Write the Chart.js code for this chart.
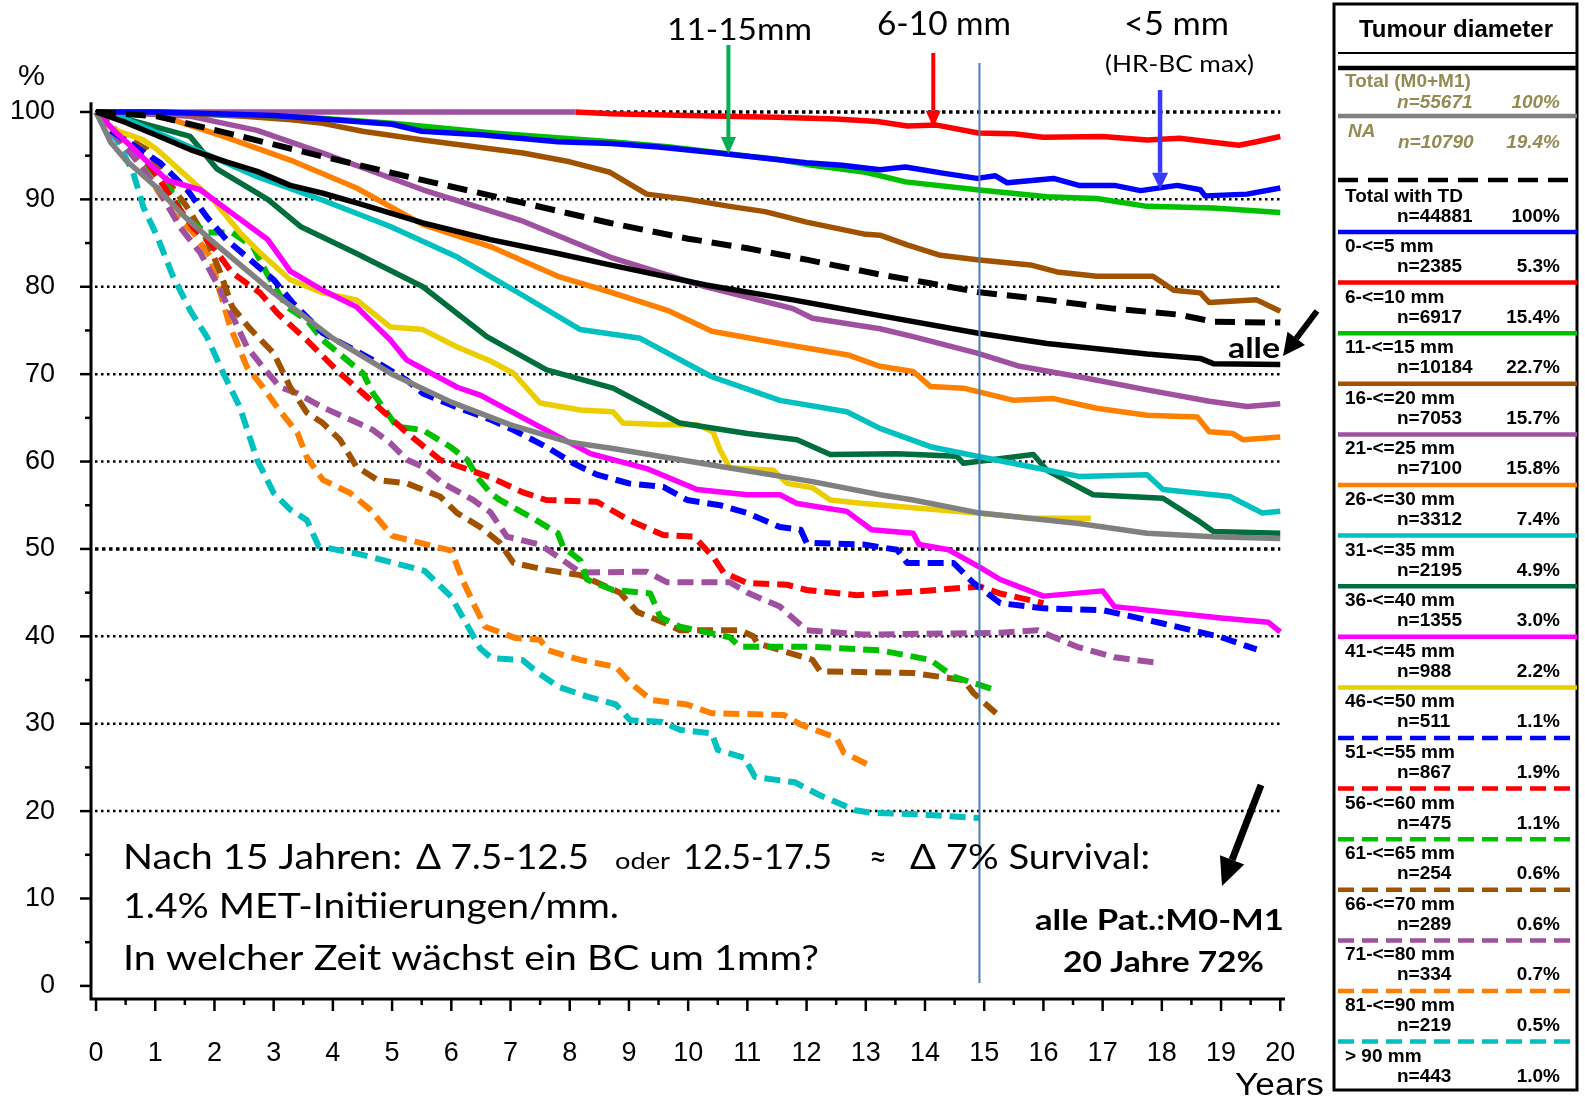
<!DOCTYPE html>
<html>
<head>
<meta charset="utf-8">
<script src="https://cdn.jsdelivr.net/npm/chart.js@4.4.1/dist/chart.umd.min.js"></script>
<style>
  html, body { margin: 0; padding: 0; background: #fff; overflow: hidden; }
  #wrap { position: absolute; left: 0; top: 0; width: 1585px; height: 1098px; }
</style>
</head>
<body>
<div id="wrap"><canvas id="c" width="1585" height="1098"></canvas></div>
<script>
// ---- Legend texts ----
const legendLabels = ['Total (M0+M1)', 'NA', 'Total with TD', '0-<=5 mm', '6-<=10 mm', '11-<=15 mm',
  '16-<=20 mm', '21-<=25 mm', '26-<=30 mm', '31-<=35 mm', '36-<=40 mm', '41-<=45 mm', '46-<=50 mm',
  '51-<=55 mm', '56-<=60 mm', '61-<=65 mm', '66-<=70 mm', '71-<=80 mm', '81-<=90 mm', '> 90 mm'];
const legendCounts = ['n=55671', 'n=10790', 'n=44881', 'n=2385', 'n=6917', 'n=10184', 'n=7053', 'n=7100',
  'n=3312', 'n=2195', 'n=1355', 'n=988', 'n=511', 'n=867', 'n=475', 'n=254', 'n=289', 'n=334', 'n=219', 'n=443'];
const legendShares = ['100%', '19.4%', '100%', '5.3%', '15.4%', '22.7%', '15.7%', '15.8%', '7.4%', '4.9%',
  '3.0%', '2.2%', '1.1%', '1.9%', '1.1%', '0.6%', '0.6%', '0.7%', '0.5%', '1.0%'];

// ---- Survival curves: [years, percent] ----
const survTotal = [[0,100],[0.5,98.8],[1.03,97.3],[1.59,95.7],[2.2,94.3],[2.72,93.2],[3.28,91.6],[3.83,90.7],[4.4,89.6],[5.52,87.3],[6.66,85.4],[7.8,83.8],[8.68,82.5],[10.3,80.2],[11.77,78.5],[12.5,77.6],[13.24,76.7],[14.88,74.7],[16.06,73.5],[17.75,72.3],[18.65,71.8],[18.87,71.2],[20,71.1]];
const survNA = [[0,100],[0.25,96.5],[0.5,94.5],[1,91.5],[1.5,88],[2,85],[3,79.3],[4,74.1],[5,70],[6,66.8],[7,64.2],[8,62.2],[8.73,61.5],[10.4,59.6],[12.1,57.7],[13.24,56.2],[13.8,55.6],[14.93,54.1],[16.6,52.9],[17.75,51.8],[18.87,51.4],[20,51.2]];
const survTD = [[0,100],[1.03,99.5],[2.15,97.7],[3.83,94.9],[5.52,92.2],[7.21,89.6],[8.68,87.3],[10,85.5],[11,84.4],[12,83.1],[13.24,81.4],[14.09,80.4],[14.88,79.4],[16.06,78.5],[17.18,77.5],[18.3,76.8],[18.87,76.0],[20,75.9]];
const surv0_5 = [[0,100],[1,100],[2,99.8],[3,99.6],[4,99.1],[5,98.6],[5.5,97.8],[6.5,97.4],[7.8,96.6],[8.7,96.4],[9.5,96.0],[10.5,95.3],[11.3,94.7],[12,94.2],[12.6,93.9],[13.24,93.4],[13.67,93.7],[14.3,93.0],[14.88,92.4],[15.19,92.7],[15.39,91.9],[16.17,92.4],[16.6,91.6],[17.2,91.6],[17.64,91.0],[18.26,91.6],[18.65,91.1],[18.73,90.4],[19.44,90.6],[20,91.3]];
const surv6_10 = [[0,100],[8.1,100],[8.7,99.8],[10,99.6],[11.5,99.4],[12.5,99.2],[13.2,98.9],[13.7,98.4],[14.2,98.5],[14.9,97.6],[15.5,97.5],[16,97.1],[17,97.2],[17.75,96.8],[18.3,97.0],[18.9,96.5],[19.3,96.2],[19.6,96.6],[20,97.2]];
const surv11_15 = [[0,100],[1,100],[2,99.8],[3.3,99.5],[5,98.7],[6.7,97.6],[8.7,96.6],[9.7,96.0],[10.7,95.2],[11.5,94.6],[12,94.0],[13,93.1],[13.67,92.0],[14.88,91.1],[16.06,90.3],[16.9,90.1],[17.75,89.2],[18.87,89.0],[20,88.5]];
const surv16_20 = [[0,100],[1,100],[1.6,99.8],[2.5,99.5],[3.3,99.1],[3.83,98.7],[4.5,97.8],[5.52,96.8],[6.3,96.1],[7.21,95.3],[8,94.3],[8.68,93.1],[9.3,90.6],[10,90.0],[10.7,89.2],[11.3,88.6],[12,87.4],[13,86.0],[13.24,85.9],[13.7,84.8],[14.26,83.6],[14.88,83.1],[15.78,82.5],[16.23,81.7],[16.9,81.2],[17.85,81.2],[18.2,79.6],[18.65,79.3],[18.8,78.2],[19.6,78.5],[20,77.2]];
const surv21_25 = [[0,100],[0.5,99.9],[1.6,99.5],[2.72,97.9],[3.83,95.3],[5.52,91.1],[7.21,87.5],[8.68,83.4],[10.3,80.0],[11.77,77.5],[12.1,76.4],[13.24,75.2],[13.8,74.3],[14.88,72.4],[15.6,70.9],[16.6,69.7],[17.75,68.2],[18.8,66.9],[19.44,66.3],[20,66.6]];
const surv26_30 = [[0,100],[1.03,99.7],[2.15,97.2],[3.28,94.5],[4.4,91.3],[5.52,87.1],[6.66,84.6],[7.8,81.2],[8.68,79.4],[9.65,77.3],[10.4,74.9],[11.55,73.5],[12.7,72.2],[13.24,70.9],[13.8,70.3],[14.09,68.6],[14.65,68.4],[15.5,67.0],[16.17,67.2],[16.9,66.1],[17.75,65.3],[18.6,65.1],[18.8,63.4],[19.2,63.2],[19.37,62.5],[20,62.8]];
const surv31_35 = [[0,100],[0.46,99.3],[1.59,96.0],[2.72,92.6],[3.83,89.9],[4.97,86.9],[6.1,83.4],[7.21,79.0],[8.18,75.1],[9.19,74.1],[10.4,69.7],[11.55,67.0],[12.68,65.7],[13.24,63.8],[14.09,61.7],[14.88,60.6],[15.78,59.4],[16.6,58.3],[17.75,58.5],[18.02,56.8],[19.15,56.0],[19.7,54.1],[20,54.3]];
const surv36_40 = [[0,100],[0.46,99.3],[1.59,97.2],[2.04,93.5],[2.9,90.0],[3.45,86.9],[4.4,83.8],[5.52,80.0],[6.6,74.3],[7.61,70.5],[8.73,68.4],[9.86,64.4],[11.0,63.2],[11.84,62.5],[12.4,60.8],[13.53,60.9],[14.54,60.6],[14.65,59.8],[15.83,60.8],[16.06,59.0],[16.84,56.2],[18.02,55.8],[18.6,53.3],[18.87,52.0],[20,51.8]];
const surv41_45 = [[0,100],[0.35,97.6],[1.2,92.2],[1.76,91.1],[2.3,88.4],[2.9,85.4],[3.28,81.8],[3.83,79.6],[4.4,77.7],[4.97,73.9],[5.25,71.6],[6.1,68.5],[6.49,67.6],[7.6,63.6],[8.35,60.9],[9.3,59.2],[10.15,56.8],[11.0,56.2],[11.55,56.2],[11.84,55.2],[12.68,54.3],[13.1,52.2],[13.8,51.8],[13.9,50.5],[14.4,49.9],[14.93,47.9],[15.27,46.5],[16,44.6],[17.0,45.2],[17.2,43.4],[19,42.1],[19.8,41.6],[20,40.5]];
const surv46_50 = [[0,100],[0.24,98.2],[0.46,97.6],[0.8,96.8],[1.03,95.7],[1.47,93.0],[1.98,89.9],[2.43,86.2],[2.77,83.9],[3.28,80.8],[3.83,79.3],[4.4,78.5],[4.97,75.4],[5.52,75.1],[6.1,73.1],[6.66,71.5],[7.05,70.1],[7.5,66.7],[8.18,65.9],[8.73,65.7],[8.9,64.4],[9.58,64.2],[10.15,64.2],[10.42,63.4],[10.54,61.3],[10.7,59.3],[11.44,59.0],[11.67,57.5],[12.1,57.0],[12.4,55.6],[12.96,55.2],[13.8,54.7],[14.88,54.1],[15.78,53.5],[16.8,53.5]];
const surv51_55 = [[0,100],[0.24,97.9],[0.74,95.7],[1.08,94.2],[1.54,91.1],[1.87,88.0],[2.2,85.4],[2.6,83.1],[3.0,80.8],[3.33,78.1],[3.83,74.7],[4.68,71.6],[5.25,69.3],[5.52,67.8],[6.1,66.2],[6.66,64.8],[7.05,63.6],[7.6,61.7],[8.06,59.8],[8.46,58.5],[9.0,57.5],[9.58,57.1],[9.98,55.6],[10.54,55.0],[11.0,54.1],[11.55,52.5],[11.9,52.2],[12.0,50.7],[12.96,50.5],[13.53,49.9],[13.7,48.4],[14.48,48.4],[14.82,46.1],[15.27,43.8],[16,43.2],[17,43.0],[18,41.5],[19,39.9],[19.6,38.5]];
const surv56_60 = [[0,100],[0.46,96.8],[0.8,94.9],[1.08,92.2],[1.3,89.9],[1.64,86.8],[1.93,85.0],[2.3,81.6],[2.77,79.3],[3.06,77.0],[3.56,73.9],[4.12,70.1],[4.51,67.8],[5.25,63.3],[5.81,60.2],[6.66,58.2],[7.2,56.5],[7.6,55.6],[8.46,55.4],[9.0,53.3],[9.58,51.6],[10.1,51.4],[10.42,49.1],[10.6,47.3],[11.0,46.1],[11.67,45.9],[12.0,45.3],[12.85,44.7],[13.8,45.1],[14.93,45.7],[15.27,44.9],[16,43.8]];
const surv61_65 = [[0,100],[0.63,96.0],[1.03,92.6],[1.3,90.7],[1.47,88.0],[1.87,86.2],[2.3,86.2],[2.65,84.6],[2.88,81.6],[3.22,77.7],[3.56,76.2],[3.83,73.9],[4.24,71.6],[4.51,70.1],[4.68,67.8],[4.85,66.2],[5.08,64.0],[5.52,63.6],[5.98,61.7],[6.27,60.2],[6.44,58.2],[6.66,56.4],[6.82,55.6],[7.33,53.7],[7.8,51.8],[7.89,50.2],[8.18,48.7],[8.29,46.5],[8.73,45.3],[9.36,44.9],[9.53,42.2],[9.86,41.1],[10.7,39.9],[10.88,38.8],[12.1,38.8],[13.24,38.4],[14.09,37.3],[14.48,35.4],[15.17,33.9]];
const surv66_70 = [[0,100],[0.4,97.5],[0.86,95.7],[1.2,92.2],[1.54,89.1],[1.87,85.4],[2.1,81.6],[2.3,77.7],[2.6,75.2],[3.0,72.4],[3.28,68.5],[3.56,65.6],[3.83,64.4],[4.12,62.5],[4.4,59.4],[4.75,57.9],[5.25,57.5],[5.81,56.0],[6.1,54.1],[6.49,52.5],[6.82,50.7],[7.05,48.4],[7.6,47.6],[8.18,47.0],[8.85,45.0],[9.14,42.8],[9.58,41.6],[9.86,40.7],[10.88,40.7],[11.1,40.0],[11.17,39.2],[12.1,37.3],[12.23,36.0],[13.8,35.8],[14.65,35.0],[14.82,33.5],[15.2,31.2]];
const surv71_80 = [[0,100],[0.3,97.5],[0.63,94.9],[1.03,91.4],[1.42,86.8],[1.76,83.9],[2.04,80.4],[2.26,77.3],[2.55,73.1],[2.82,70.8],[3.11,68.5],[3.4,67.8],[3.83,66.2],[4.29,64.8],[4.68,63.6],[4.97,62.1],[5.25,60.2],[5.52,59.4],[5.86,57.5],[6.37,55.6],[6.66,54.2],[6.94,51.4],[7.5,50.5],[7.8,49.1],[8.18,47.3],[9.3,47.4],[9.64,46.2],[10.7,46.2],[11.0,45.0],[11.55,43.4],[12.0,40.7],[12.96,40.2],[15.27,40.4],[15.9,40.7],[16.57,38.8],[17.2,37.6],[17.9,37.0]];
const surv81_90 = [[0,100],[0.3,97.5],[0.57,95.7],[0.8,93.7],[1.03,91.1],[1.3,88.4],[1.64,86.2],[1.93,83.4],[2.1,79.3],[2.26,75.5],[2.55,70.8],[2.82,68.5],[3.06,66.2],[3.4,63.3],[3.56,60.5],[3.83,57.9],[4.29,56.4],[4.63,54.5],[5.0,51.5],[6.0,49.8],[6.2,46.3],[6.4,43.4],[6.57,41.1],[7.09,39.8],[7.5,39.6],[7.63,38.4],[8.18,37.3],[8.78,36.5],[9.02,34.7],[9.38,32.7],[9.98,32.2],[10.4,31.2],[11.62,31.0],[11.9,29.9],[12.5,28.4],[12.63,26.7],[13.1,25.1]];
const survOver90 = [[0,100],[0.12,98.7],[0.35,96.8],[0.63,93.0],[0.8,89.1],[1.03,85.8],[1.3,81.2],[1.59,77.3],[1.87,74.3],[2.15,70.1],[2.43,66.2],[2.72,60.2],[3.0,56.4],[3.28,54.5],[3.56,53.3],[3.76,50.3],[4.45,49.4],[5.55,47.5],[6.0,44.5],[6.25,41.5],[6.49,38.6],[6.68,37.5],[7.2,37.3],[7.45,35.9],[7.82,34.2],[8.3,33.1],[8.78,32.2],[9.02,30.4],[9.56,30.2],[9.86,29.3],[10.4,28.9],[10.5,27.0],[10.95,26.1],[11.13,23.9],[11.8,23.3],[12.2,21.9],[12.82,20.1],[13.1,19.8],[14.0,19.6],[14.93,19.2]];

// ---- Line styles ----
const DASH = [16, 8];
const PURPLE = '#9f519f';
const seriesStyles = [
  { data: survTotal,  color: '#000000', dash: [] , width: 5.5 },
  { data: survNA,     color: '#808080', dash: [] , width: 5.5 },
  { data: survTD,     color: '#000000', dash: [20, 10], width: 6 },
  { data: surv0_5,    color: '#0000ff', dash: [] , width: 5.5 },
  { data: surv6_10,   color: '#ff0000', dash: [] , width: 5.5 },
  { data: surv11_15,  color: '#00c000', dash: [] , width: 5.5 },
  { data: surv16_20,  color: '#a05200', dash: [] , width: 5.5 },
  { data: surv21_25,  color: PURPLE,    dash: [] , width: 5.5 },
  { data: surv26_30,  color: '#ff8000', dash: [] , width: 5.5 },
  { data: surv31_35,  color: '#00c0c0', dash: [] , width: 5.5 },
  { data: surv36_40,  color: '#006e3c', dash: [] , width: 5.5 },
  { data: surv41_45,  color: '#ff00ff', dash: [] , width: 5.5 },
  { data: surv46_50,  color: '#ebcd00', dash: [] , width: 5.5 },
  { data: surv51_55,  color: '#0000ff', dash: DASH, width: 6 },
  { data: surv56_60,  color: '#ff0000', dash: DASH, width: 6 },
  { data: surv61_65,  color: '#00c000', dash: DASH, width: 6 },
  { data: surv66_70,  color: '#a05200', dash: DASH, width: 6 },
  { data: surv71_80,  color: PURPLE,    dash: DASH, width: 6 },
  { data: surv81_90,  color: '#ff8000', dash: DASH, width: 6 },
  { data: survOver90, color: '#00c0c0', dash: DASH, width: 6 }
];

const datasets = seriesStyles.map((s, i) => ({
  label: legendLabels[i],
  data: s.data.map(([x, y]) => ({ x, y })),
  borderColor: s.color,
  borderWidth: s.width,
  borderDash: s.dash,
  borderJoinStyle: 'round',
  pointRadius: 0,
  fill: false,
  tension: 0
}));
// the 6-10 mm curve runs under a purple stretch along 100 %
datasets[4].segment = { borderColor: c => (c.p1.parsed.x <= 8.1 ? PURPLE : '#ff0000') };

const SANS = '"Liberation Sans", Arial, sans-serif';
const CAL = 'Lato, "Open Sans", "Noto Sans", sans-serif';

function fitText(ctx, txt, x, y, w, font, color) {
  ctx.save();
  ctx.font = font;
  ctx.fillStyle = color || '#000';
  ctx.textAlign = 'left';
  ctx.textBaseline = 'alphabetic';
  const m = ctx.measureText(txt).width;
  ctx.translate(x, y);
  ctx.scale(w / m, 1);
  ctx.fillText(txt, 0, 0);
  ctx.restore();
}

function arrow(ctx, x1, y1, x2, y2, lw, hl, hw, color) {
  const a = Math.atan2(y2 - y1, x2 - x1);
  const bx = x2 - Math.cos(a) * hl, by = y2 - Math.sin(a) * hl;
  ctx.save();
  ctx.strokeStyle = color; ctx.fillStyle = color;
  ctx.lineWidth = lw; ctx.setLineDash([]);
  ctx.beginPath(); ctx.moveTo(x1, y1); ctx.lineTo(bx, by); ctx.stroke();
  ctx.beginPath();
  ctx.moveTo(x2, y2);
  ctx.lineTo(bx + Math.sin(a) * hw / 2, by - Math.cos(a) * hw / 2);
  ctx.lineTo(bx - Math.sin(a) * hw / 2, by + Math.cos(a) * hw / 2);
  ctx.closePath(); ctx.fill();
  ctx.restore();
}

// axes, tick marks and dotted reference lines
const framePlugin = {
  id: 'frame',
  beforeDatasetsDraw(chart) {
    const { ctx, scales: { x, y } } = chart;
    const x0 = chart.chartArea.left, yb = chart.chartArea.bottom;
    ctx.save();
    ctx.strokeStyle = '#000';
    for (let v = 20; v <= 100; v += 10) {
      const py = y.getPixelForValue(v);
      const heavy = (v === 100 || v === 50);
      ctx.lineWidth = heavy ? 3.5 : 2.5;
      ctx.setLineDash(heavy ? [3.5, 3.5] : [2.5, 3.5]);
      ctx.beginPath(); ctx.moveTo(x0 + 4, py); ctx.lineTo(x.getPixelForValue(20), py); ctx.stroke();
    }
    ctx.setLineDash([]);
    ctx.lineWidth = 3;
    ctx.beginPath();
    ctx.moveTo(x0, y.getPixelForValue(101.1)); ctx.lineTo(x0, yb);
    ctx.lineTo(chart.chartArea.right, yb);
    ctx.stroke();
    ctx.lineWidth = 2.5;
    for (let v = 0; v <= 100; v += 5) {
      const py = y.getPixelForValue(v);
      ctx.beginPath(); ctx.moveTo(x0 - (v % 10 === 0 ? 11 : 6), py); ctx.lineTo(x0, py); ctx.stroke();
    }
    for (let t = 0; t <= 20; t += 0.5) {
      const px = x.getPixelForValue(t);
      ctx.beginPath(); ctx.moveTo(px, yb); ctx.lineTo(px, yb + (t % 1 === 0 ? 12 : 6)); ctx.stroke();
    }
    ctx.restore();
  }
};

// annotations, arrows and the side legend
const notesPlugin = {
  id: 'notes',
  afterDatasetsDraw(chart) {
    const { ctx, scales: { x, y } } = chart;
    ctx.save();
    // 15-year marker
    const x15 = x.getPixelForValue(14.92);
    ctx.strokeStyle = '#4a7ebb'; ctx.lineWidth = 2; ctx.setLineDash([]);
    ctx.beginPath(); ctx.moveTo(x15, 63); ctx.lineTo(x15, 983); ctx.stroke();

    // pointers to the small-tumour curves
    arrow(ctx, x.getPixelForValue(10.68), 45, x.getPixelForValue(10.68), y.getPixelForValue(95.2), 4, 17, 15, '#00b050');
    arrow(ctx, x.getPixelForValue(14.14), 53, x.getPixelForValue(14.14), y.getPixelForValue(98.2), 4, 17, 15, '#ff0000');
    arrow(ctx, x.getPixelForValue(17.97), 90, x.getPixelForValue(17.97), y.getPixelForValue(91.1), 4.5, 17, 16, '#3b3bff');

    fitText(ctx, '11-15mm', 667, 40, 145, '31px ' + CAL);
    fitText(ctx, '6-10 mm', 877, 35, 134, '32px ' + CAL);
    fitText(ctx, '<5 mm', 1124, 35, 105, '32px ' + CAL);
    fitText(ctx, '(HR-BC max)', 1105, 72, 149, '23px ' + CAL);

    // "alle" pointer
    fitText(ctx, 'alle', 1228, 358, 52, 'bold 28px ' + CAL);
    arrow(ctx, 1317, 311, 1283, 356, 6, 22, 22, '#000');

    // bottom-right note
    arrow(ctx, 1261, 785, 1222, 886, 7, 28, 26, '#000');
    fitText(ctx, 'alle Pat.:M0-M1', 1035, 930, 249, 'bold 28px ' + CAL);
    fitText(ctx, '20 Jahre 72%', 1063, 972, 201, 'bold 28px ' + CAL);

    // text block
    const F = '34px ' + CAL;
    fitText(ctx, 'Nach 15 Jahren:', 123, 869, 279, F);
    fitText(ctx, '\u0394 7.5-12.5', 416, 869, 173, F);
    fitText(ctx, 'oder', 615, 869, 55, '24px ' + CAL);
    fitText(ctx, '12.5-17.5', 683, 869, 149, F);
    fitText(ctx, '\u2248', 869, 869, 18, F);
    fitText(ctx, '\u0394 7% Survival:', 910, 869, 240, F);
    fitText(ctx, '1.4% MET-Initiierungen/mm.', 123, 918, 496, F);
    fitText(ctx, 'In welcher Zeit w\u00e4chst ein BC um 1mm?', 123, 970, 696, F);

    // axis captions
    fitText(ctx, '%', 18, 85, 27, '30px ' + SANS);
    fitText(ctx, 'Years', 1235, 1095, 89, '31px ' + SANS);
    ctx.restore();
  },
  afterDraw(chart) {
    const ctx = chart.ctx;
    const L = 1334, R = 1577;
    const OLIVE = '#948a54';
    ctx.save();
    ctx.strokeStyle = '#000'; ctx.lineWidth = 3; ctx.setLineDash([]);
    ctx.strokeRect(L, 4, R - L, 1086);
    fitText(ctx, 'Tumour diameter', 1359, 37, 194, 'bold 23px ' + SANS);
    ctx.lineWidth = 2;
    ctx.beginPath(); ctx.moveTo(L + 4, 53); ctx.lineTo(R, 53); ctx.stroke();

    const sample = (i, yLine) => {
      const s = seriesStyles[i];
      ctx.save();
      ctx.strokeStyle = s.color; ctx.lineWidth = 4.5; ctx.setLineDash(s.dash);
      ctx.beginPath(); ctx.moveTo(L + 4, yLine); ctx.lineTo(R, yLine); ctx.stroke();
      ctx.restore();
    };
    const put = (txt, xx, yy, font, color, align) => {
      ctx.font = font; ctx.fillStyle = color; ctx.textAlign = align || 'left';
      ctx.textBaseline = 'alphabetic'; ctx.fillText(txt, xx, yy);
    };
    const B = 'bold 19px ' + SANS, BI = 'italic bold 19px ' + SANS;

    sample(0, 68);
    put(legendLabels[0], 1345, 87, B, OLIVE);
    put(legendCounts[0], 1397, 108, BI, OLIVE);
    put(legendShares[0], 1560, 108, BI, OLIVE, 'right');

    sample(1, 116);
    put(legendLabels[1], 1348, 137, BI, OLIVE);
    put(legendCounts[1], 1398, 148, BI, OLIVE);
    put(legendShares[1], 1560, 148, BI, OLIVE, 'right');

    sample(2, 180);
    put(legendLabels[2], 1345, 202, B, '#000');
    put(legendCounts[2], 1397, 222, B, '#000');
    put(legendShares[2], 1560, 222, B, '#000', 'right');

    for (let i = 3; i < legendLabels.length; i++) {
      const top = 232 + (i - 3) * 50.6;
      sample(i, top);
      put(legendLabels[i], 1345, top + 20, B, '#000');
      put(legendCounts[i], 1397, top + 40, B, '#000');
      put(legendShares[i], 1560, top + 40, B, '#000', 'right');
    }
    ctx.restore();
  }
};

new Chart(document.getElementById('c'), {
  type: 'line',
  data: { datasets },
  options: {
    responsive: false,
    animation: false,
    devicePixelRatio: 1,
    layout: { padding: { left: 0, top: 94.5, right: 300, bottom: 0 } },
    plugins: { legend: { display: false }, tooltip: { enabled: false } },
    elements: { line: { borderCapStyle: 'butt' } },
    scales: {
      x: {
        type: 'linear', min: -0.085, max: 20.08,
        grid: { display: false }, border: { display: false },
        ticks: { stepSize: 1, includeBounds: false, autoSkip: false, maxRotation: 0,
                 color: '#000', padding: 30, font: { family: SANS, size: 27 } },
        afterFit(s) { s.height = 99; }
      },
      y: {
        type: 'linear', min: -1.5, max: 102,
        grid: { display: false }, border: { display: false },
        ticks: { stepSize: 10, includeBounds: false, color: '#000', padding: 28,
                 font: { family: SANS, size: 27 } },
        afterFit(s) { s.width = 91; }
      }
    }
  },
  plugins: [framePlugin, notesPlugin]
});
</script>
</body>
</html>
